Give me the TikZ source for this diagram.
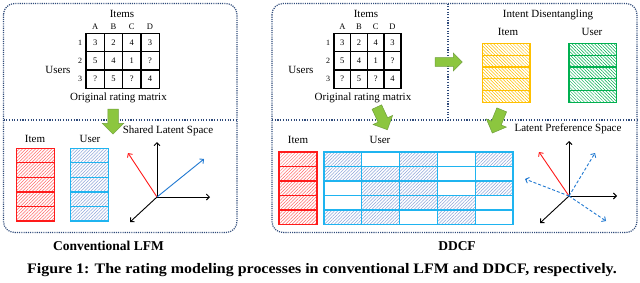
\documentclass[tikz,border=0pt]{standalone}
\usepackage{fontspec}
\setmainfont{Liberation Serif}
\usetikzlibrary{positioning, arrows.meta, shapes.arrows, patterns.meta}
\definecolor{cFrame}{HTML}{2F4A7A}
\definecolor{cRed}{HTML}{FF1A1A}
\definecolor{cRedHatch}{HTML}{FF6A6A}
\definecolor{cCyan}{HTML}{1FB4F0}
\definecolor{cCyanHatch}{HTML}{8FA6DA}
\definecolor{cYellow}{HTML}{FFC000}
\definecolor{cGreen}{HTML}{00B050}
\definecolor{cAxisBlue}{HTML}{1F78D1}
\definecolor{cArrow}{HTML}{8CC63F}
\definecolor{cArrowDk}{HTML}{6E9F3A}
\tikzset{
  panel/.style={draw=cFrame, line width=1.2pt, dash pattern=on 1.1pt off 1.1pt,
    rounded corners=11pt},
  divider/.style={draw=cFrame, line width=1.1pt, dash pattern=on 1.1pt off 1.6pt},
  lbl/.style={font=\fontsize{11}{13}\selectfont, inner sep=0pt},
  title/.style={font=\fontsize{13.5}{15}\selectfont\bfseries, inner sep=0pt},
  colname/.style={font=\fontsize{8.5}{10}\selectfont, inner sep=0pt},
  rowname/.style={font=\fontsize{8}{9}\selectfont, inner sep=0pt},
  ratecell/.style={draw=black, line width=1.4pt, minimum width=#1,
    minimum height=18.3pt, inner sep=0pt, font=\fontsize{8.5}{10}\selectfont},
  hatchR/.style={pattern={Lines[angle=45,distance=2.3pt,line width=0.5pt]}, pattern color=#1},
  hatchL/.style={pattern={Lines[angle=-45,distance=2.3pt,line width=0.5pt]}, pattern color=#1},
  bigarrow/.style={single arrow, draw=cArrowDk, fill=cArrow, line width=0.5pt,
    inner sep=#1, single arrow head extend=5.5pt, minimum height=25pt},
  axis/.style={-{Straight Barb[length=3pt,width=6pt]}, line width=0.9pt},
}

\begin{document}
\begin{tikzpicture}[x=1pt, y=-1pt]
  \fill[white] (0,0) rectangle (640,282);
  \useasboundingbox (0,0) rectangle (640,282);

  % frames
  \draw[panel] (3.5,3.5) rectangle (237,232.5);
  \draw[panel] (272,3.5) rectangle (637,232.5);
  \draw[divider] (3.5,120) -- (237,120);
  \draw[divider] (272,120) -- (637,120);
  \draw[divider] (448,3.5) -- (448,120);

  % rating matrices
  \foreach \row [count=\i] in {{3,2,4,3},{5,4,1,?},{?,5,?,4}} {
    \foreach \v [count=\j] in \row {
      \node[ratecell=18.3pt] (L-\i-\j) at ({86+18.3*(\j-0.5)}, {33.3+18.3*(\i-0.5)}) {\v};
      \node[ratecell=16.7pt] (R-\i-\j) at ({334+16.7*(\j-0.5)}, {33.3+18.3*(\i-0.5)}) {\v};
    }
  }
  \foreach \c [count=\j] in {A,B,C,D} {
    \node[colname, above=2.5pt of L-1-\j] (Lc-\j) {\c};
    \node[colname, above=2.5pt of R-1-\j] (Rc-\j) {\c};
  }
  \foreach \i in {1,2,3} {
    \node[rowname, left=3pt of L-\i-1] (Lr-\i) {\i};
    \node[rowname, left=3pt of R-\i-1] (Rr-\i) {\i};
  }

  \node[lbl] (litems) at (122,14) {Items};
  \node[lbl] (lusers) at (58,70) {Users};
  \node[lbl] (lorig) at (118.5,98) {Original rating matrix};
  \node[lbl] (ritems) at (366,14) {Items};
  \node[lbl] (rusers) at (301,70) {Users};
  \node[lbl] (rorig) at (363,98) {Original rating matrix};

  % conventional LFM factors
  \node[lbl] (litem) at (35,139) {Item};
  \node[lbl] (luser) at (90,139) {User};
  \fill[hatchR=cRedHatch] (16.7,148.3) rectangle (54.3,221);
  \fill[hatchR=cCyanHatch] (70.7,148.3) rectangle (108.3,221);
  \foreach \r in {0,...,4} {
    \draw[cRed, line width=1.2pt] (16.7,{148.3+14.54*\r}) rectangle ++(37.6,14.54);
    \draw[cCyan, line width=1.2pt] (70.7,{148.3+14.54*\r}) rectangle ++(37.6,14.54);
  }

  \node[lbl] (lshared) at (168,130.5) {Shared Latent Space};
  \coordinate (O1) at (157,197);
  \coordinate (O1n) at (157,142);
  \coordinate (O1e) at (210,197);
  \coordinate (O1sw) at (130,222);
  \coordinate (O1item) at (128,153);
  \coordinate (O1user) at (204,159);
  \draw[axis] (O1) -- (O1n);
  \draw[axis] (O1) -- (O1e);
  \draw[axis] (O1) -- (O1sw);
  \draw[axis, cRed] (O1) -- (O1item);
  \draw[axis, cAxisBlue] (O1) -- (O1user);

  % intent disentangling
  \node[lbl] (rintent) at (548,15) {Intent Disentangling};
  \node[lbl] (ritemA) at (508,32) {Item};
  \node[lbl] (ruserA) at (592,32) {User};
  \fill[hatchL=cYellow] (482.7,43.3) rectangle (530,102.3);
  \fill[hatchL=cGreen] (569,43.3) rectangle (616.7,102.3);
  \foreach \r in {0,...,4} {
    \draw[cYellow, line width=1.2pt] (482.7,{43.3+11.8*\r}) rectangle ++(47.3,11.8);
    \draw[cGreen, line width=1.2pt] (569,{43.3+11.8*\r}) rectangle ++(47.7,11.8);
  }

  % DDCF factors
  \node[lbl] (ritemB) at (298,140) {Item};
  \node[lbl] (ruserB) at (380,140) {User};
  \fill[hatchR=cRedHatch] (279,152) rectangle (317,224.5);
  \foreach \r in {0,...,4}
    \draw[cRed, line width=1.2pt] (279,{152+14.5*\r}) rectangle ++(38,14.5);
  \foreach \row [count=\i] in {{1,0,1,0,1},{1,1,1,0,0},{0,1,1,0,1},{0,1,1,1,0},{1,1,0,1,0}} {
    \foreach \h [count=\j] in \row {
      \ifnum\h=1
        \fill[hatchR=cCyanHatch] ({324+37.8*(\j-1)},{152+14.5*(\i-1)}) rectangle ++(37.8,14.5);
      \fi
      \draw[cCyan, line width=1.2pt] ({324+37.8*(\j-1)},{152+14.5*(\i-1)}) rectangle ++(37.8,14.5);
    }
  }

  \node[lbl] (rlatent) at (568,129) {Latent Preference Space};
  \coordinate (O2) at (569,196);
  \coordinate (O2n) at (569,141);
  \coordinate (O2e) at (617,196);
  \coordinate (O2sw) at (540,223);
  \coordinate (O2item) at (539,152);
  \coordinate (O2ua) at (595,153);
  \coordinate (O2ub) at (525,179);
  \coordinate (O2uc) at (606,221);
  \draw[axis] (O2) -- (O2n);
  \draw[axis] (O2) -- (O2e);
  \draw[axis] (O2) -- (O2sw);
  \draw[axis, cRed] (O2) -- (O2item);
  \foreach \u in {O2ua,O2ub,O2uc}
    \draw[axis, cAxisBlue, dash pattern=on 3pt off 2pt] (O2) -- (\u);

  % flow arrows
  \node[bigarrow=5pt, rotate=-90] (arrL) at (113,119) {};
  \node[bigarrow=4.2pt, single arrow head extend=4.5pt, minimum height=27pt] (arrR0) at (446.5,62) {};
  \node[bigarrow=5pt, rotate=-65] (arrR1) at (381,116) {};
  \node[bigarrow=5pt, rotate=-112] (arrR2) at (498,119) {};

  % titles
  \node[title] (ltitle) at (108.5,246) {Conventional LFM};
  \node[title] (rtitle) at (457,246) {DDCF};
  \node[title, font=\fontsize{14.5}{16}\selectfont\bfseries] (caption) at (322,270)
    {\scalebox{1.1}[1]{Figure 1: The rating modeling processes in conventional LFM and DDCF, respectively.}};
\end{tikzpicture}
\end{document}
